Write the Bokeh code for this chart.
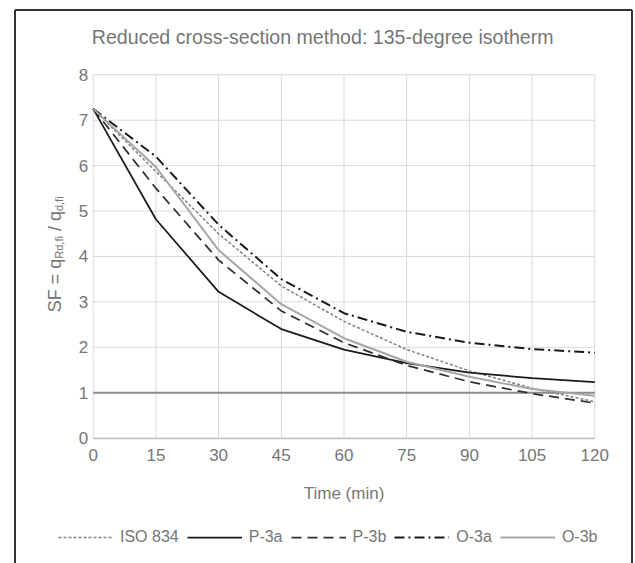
from bokeh.plotting import figure
from bokeh.models import Range1d, Legend, LegendItem, Label, FixedTicker, LinearAxis
from bokeh.embed import file_html
from bokeh.resources import INLINE

# ---- data ----
time_min = [0, 15, 30, 45, 60, 75, 90, 105, 120]
iso834 = [7.25, 5.87, 4.50, 3.35, 2.57, 1.95, 1.48, 1.10, 0.80]
p3a = [7.25, 4.82, 3.22, 2.40, 1.95, 1.65, 1.44, 1.32, 1.23]
p3b = [7.25, 5.50, 3.92, 2.80, 2.10, 1.60, 1.24, 0.98, 0.77]
o3a = [7.25, 6.20, 4.70, 3.50, 2.75, 2.34, 2.10, 1.96, 1.88]
o3b = [7.25, 5.97, 4.14, 2.95, 2.20, 1.68, 1.35, 1.08, 0.93]
sf_limit = [1.0, 1.0]

x_ticks = [0, 15, 30, 45, 60, 75, 90, 105, 120]
y_ticks = [0, 1, 2, 3, 4, 5, 6, 7, 8]

title_text = "Reduced cross-section method: 135-degree isotherm"
x_label = "Time (min)"

FONT = "Liberation Sans"
TXT = "#767676"
GRID = "#d9d9d9"

# ---- layout: the plot area (0..120, 0..8) sits at these canvas pixels ----
W, H = 635, 563
PX_L, PX_R, PX_T, PX_B = 92.7, 594.3, 74.3, 437.6
XMIN, XMAX, YMIN, YMAX = x_ticks[0], x_ticks[-1], y_ticks[0], y_ticks[-1]
sx = (PX_R - PX_L) / (XMAX - XMIN)
sy = (PX_B - PX_T) / (YMAX - YMIN)
x0 = XMIN - PX_L / sx
y0 = YMIN - (H - PX_B) / sy


def cx(px):  # canvas pixel -> data x
    return x0 + px / sx


def cy(py):  # canvas pixel -> data y
    return y0 + (H - py) / sy


p = figure(width=W, height=H, output_backend="svg", toolbar_location=None,
           x_range=Range1d(x0, x0 + W / sx), y_range=Range1d(y0, y0 + H / sy),
           x_axis_location=None, y_axis_location=None,
           min_border=0, background_fill_color="white", border_fill_color="white")
p.title.visible = False
p.outline_line_color = None
p.grid.visible = False

# gridlines (plot area only)
p.segment(x0=x_ticks, x1=x_ticks, y0=[YMIN] * len(x_ticks), y1=[YMAX] * len(x_ticks),
          line_color=GRID, line_width=1)
p.segment(x0=[XMIN] * len(y_ticks), x1=[XMAX] * len(y_ticks), y0=y_ticks, y1=y_ticks,
          line_color=GRID, line_width=1)

# axes fixed at the plot-area origin
xaxis = LinearAxis(fixed_location=0, ticker=FixedTicker(ticks=x_ticks), bounds=(XMIN, XMAX))
yaxis = LinearAxis(fixed_location=0, ticker=FixedTicker(ticks=y_ticks), bounds=(YMIN, YMAX))
for ax in (xaxis, yaxis):
    ax.major_tick_line_color = None
    ax.minor_tick_line_color = None
    ax.major_tick_out = 0
    ax.major_tick_in = 0
    ax.major_label_text_font = FONT
    ax.major_label_text_font_size = "17px"
    ax.major_label_text_color = TXT
yaxis.axis_line_color = None
yaxis.major_label_standoff = 5
xaxis.axis_line_color = "#bfbfbf"
xaxis.axis_line_width = 1.5
xaxis.major_label_standoff = 11
xaxis.axis_label = x_label
xaxis.axis_label_text_font = FONT
xaxis.axis_label_text_font_size = "17px"
xaxis.axis_label_text_font_style = "normal"
xaxis.axis_label_text_color = TXT
xaxis.axis_label_standoff = 19
p.add_layout(xaxis, "below")
p.add_layout(yaxis, "left")

# reference line SF = 1
p.line([XMIN, XMAX], sf_limit, line_color="#8c8c8c", line_width=2)

# series
r_iso = p.line(time_min, iso834, line_color="#808080", line_width=1.5, line_dash="3 2")
r_p3a = p.line(time_min, p3a, line_color="#1a1a1a", line_width=1.75)
r_p3b = p.line(time_min, p3b, line_color="#303030", line_width=1.75, line_dash="10 6")
r_o3a = p.line(time_min, o3a, line_color="#1a1a1a", line_width=2, line_dash="10 4 2 4")
r_o3b = p.line(time_min, o3b, line_color="#a6a6a6", line_width=2)

legend = Legend(items=[
    LegendItem(label="ISO 834", renderers=[r_iso]),
    LegendItem(label="P-3a", renderers=[r_p3a]),
    LegendItem(label="P-3b", renderers=[r_p3b]),
    LegendItem(label="O-3a", renderers=[r_o3a]),
    LegendItem(label="O-3b", renderers=[r_o3b]),
], orientation="horizontal", location=(58, 16), padding=0, margin=0,
    border_line_color=None, background_fill_alpha=0,
    glyph_width=55, glyph_height=20, label_height=20, label_standoff=7, spacing=8,
    label_text_font=FONT, label_text_font_size="16px", label_text_color=TXT)
p.add_layout(legend, "center")

# title (anchored to the top-left corner of the plot area)
p.add_layout(Label(x=XMIN, y=YMAX, x_offset=-1.4, y_offset=PX_T - 43.3 + 7, text=title_text,
                   text_font=FONT, text_font_size="19.6px", text_color=TXT,
                   text_align="left", text_baseline="alphabetic"))

# y-axis label with subscripts: SF = q_{Rd,fi} / q_{d,fi}
ylabel_parts = [("SF = q", "18px", 61.7 - 7.5, 311.7),
                ("Rd,fi", "11px", 63.5 - 5.0, 258.2),
                ("/ q", "18px", 61.7 - 7.5, 230.6),
                ("d,fi", "11px", 63.5 - 5.0, 210.6)]
for txt, size, bx, by in ylabel_parts:
    p.add_layout(Label(x=XMIN, y=YMIN, x_offset=bx - PX_L, y_offset=PX_B - by, text=txt,
                       angle=90, angle_units="deg", text_font=FONT, text_font_size=size,
                       text_color=TXT, text_align="left", text_baseline="alphabetic"))

# outer chart border: each edge as its own line, drawn last
bx_l, bx_r, by_t, by_b = cx(14.5), cx(631.5), cy(9.5), cy(H + 40)
p.line([bx_l, bx_r], [by_t, by_t], line_color="#333333", line_width=2, level="overlay")
p.line([bx_l, bx_l], [by_t, by_b], line_color="#333333", line_width=2, level="overlay")
p.line([bx_r, bx_r], [by_t, by_b], line_color="#333333", line_width=2, level="overlay")

open("out.html", "w").write(file_html(p, INLINE))
